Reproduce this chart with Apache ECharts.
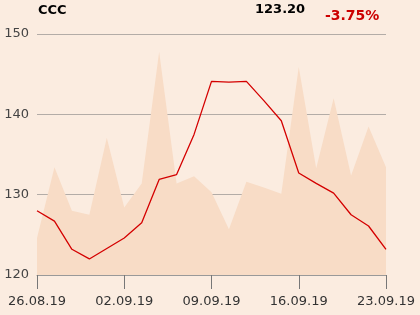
<!DOCTYPE html>
<html><head><meta charset="utf-8">
<script src="https://cdn.jsdelivr.net/npm/echarts@6/dist/echarts.min.js"></script>
<style>html,body{margin:0;padding:0;background:#fbece0;}#c{width:420px;height:315px;}</style>
</head><body><div id="c"></div>
<script>
var categories = ['26.08.19','27.08.19','28.08.19','29.08.19','30.08.19',
  '02.09.19','03.09.19','04.09.19','05.09.19','06.09.19',
  '09.09.19','10.09.19','11.09.19','12.09.19','13.09.19',
  '16.09.19','17.09.19','18.09.19','19.09.19','20.09.19','23.09.19'];
var price = [128.0,126.7,123.2,122.0,123.3,124.6,126.5,131.9,132.5,137.5,144.1,144.0,144.1,141.7,139.2,132.7,131.4,130.2,127.5,126.1,123.2];
var background = [124.6,133.4,128.0,127.5,137.1,128.4,131.4,147.8,131.4,132.3,130.3,125.7,131.6,130.9,130.1,145.9,133.3,142.0,132.4,138.5,133.4];
var yTicks = {min:120, max:150, interval:10};
var titleText = 'CCC', lastText = '123.20', changeText = '-3.75%';

var chart = echarts.init(document.getElementById('c'), null, {renderer:'canvas'});
var font = 'DejaVu Sans';
chart.setOption({
  backgroundColor:'#fbece0',
  animation:false,
  textStyle:{fontFamily:font},
  title:[
    {text:titleText, left:38, top:4, padding:0, textStyle:{fontSize:13, fontWeight:'bold', color:'#000', fontFamily:font}},
    {text:lastText, left:255, top:3, padding:0, textStyle:{fontSize:13, fontWeight:'bold', color:'#000', fontFamily:font}},
    {text:changeText, left:325, top:9, padding:0, textStyle:{fontSize:14, fontWeight:'bold', color:'#cc0000', fontFamily:font}}
  ],
  grid:{left:37, right:34, top:34, bottom:40, containLabel:false},
  xAxis:{type:'category', data:categories, boundaryGap:false,
    axisLine:{lineStyle:{color:'#999', width:1}},
    axisTick:{interval:4, length:14, lineStyle:{color:'#777'}},
    axisLabel:{interval:4, color:'#333', fontSize:13, margin:20, fontFamily:font}
  },
  yAxis:{type:'value', min:yTicks.min, max:yTicks.max, interval:yTicks.interval,
    axisLine:{show:false}, axisTick:{show:false},
    axisLabel:{color:'#444', fontSize:13, margin:8, fontFamily:font},
    splitLine:{lineStyle:{color:'#b3aca7', width:1}}
  },
  series:[
    {type:'line', data:background, symbol:'none', lineStyle:{width:0, opacity:0},
     areaStyle:{color:'#f8dcc6', opacity:1}, z:1, silent:true},
    {type:'line', data:price, symbol:'none', lineStyle:{color:'#d40000', width:1.3}, z:3}
  ]
});
</script></body></html>
